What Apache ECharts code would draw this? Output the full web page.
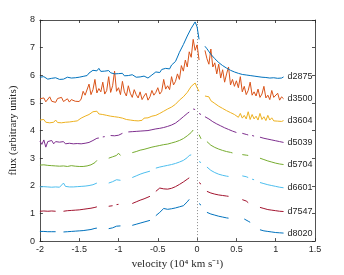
<!DOCTYPE html>
<html><head><meta charset="utf-8">
<script src="https://cdn.jsdelivr.net/npm/echarts@6/dist/echarts.min.js"></script>
<style>html,body{margin:0;padding:0;background:#fff}#c{width:344px;height:275px}</style>
</head><body><div id="c"></div>
<script>
// velocity grid (10^4 km/s), step 0.025 from -2.0 to 1.1
const vel = [-2.000,-1.975,-1.950,-1.925,-1.900,-1.875,-1.850,-1.825,-1.800,-1.775,
-1.750,-1.725,-1.700,-1.675,-1.650,-1.625,-1.600,-1.575,-1.550,-1.525,
-1.500,-1.475,-1.450,-1.425,-1.400,-1.375,-1.350,-1.325,-1.300,-1.275,
-1.250,-1.225,-1.200,-1.175,-1.150,-1.125,-1.100,-1.075,-1.050,-1.025,
-1.000,-0.975,-0.950,-0.925,-0.900,-0.875,-0.850,-0.825,-0.800,-0.775,
-0.750,-0.725,-0.700,-0.675,-0.650,-0.625,-0.600,-0.575,-0.550,-0.525,
-0.500,-0.475,-0.450,-0.425,-0.400,-0.375,-0.350,-0.325,-0.300,-0.275,
-0.250,-0.225,-0.200,-0.175,-0.150,-0.125,-0.100,-0.075,-0.050,-0.025,
0.000,0.025,0.050,0.075,0.100,0.125,0.150,0.175,0.200,0.225,
0.250,0.275,0.300,0.325,0.350,0.375,0.400,0.425,0.450,0.475,
0.500,0.525,0.550,0.575,0.600,0.625,0.650,0.675,0.700,0.725,
0.750,0.775,0.800,0.825,0.850,0.875,0.900,0.925,0.950,0.975,
1.000,1.025,1.050,1.075,1.100];
const _ = null;
const d2875 = [5.93,5.88,5.95,5.90,5.86,5.92,5.89,5.84,5.91,5.88,
5.85,5.91,5.86,5.89,5.93,5.87,5.90,5.95,5.91,5.97,
5.93,6.00,5.96,6.03,5.99,6.08,6.11,6.18,6.23,6.16,
6.25,6.14,6.21,6.15,6.11,6.17,6.09,6.13,6.05,6.11,
6.06,6.02,6.07,5.98,6.04,5.99,5.95,6.02,5.97,5.93,
5.99,5.94,5.91,5.97,5.93,5.90,5.97,6.01,6.06,6.12,
6.14,6.10,6.21,6.17,6.25,6.29,6.23,6.37,6.35,6.50,
6.66,6.83,6.89,7.11,7.18,7.42,7.48,7.70,7.74,7.93,
7.75,7.30,_,_,7.05,6.96,6.90,6.76,6.72,6.60,
6.57,6.46,6.45,6.35,6.36,6.26,6.27,6.18,6.19,6.12,
6.14,6.07,6.11,6.03,6.08,6.01,6.05,5.99,6.04,5.97,
6.01,5.95,6.00,5.93,5.98,5.92,5.97,5.90,5.96,5.91,
5.95,5.89,5.94,5.90,5.94];
const d3500 = [5.15,5.08,5.18,5.04,5.10,5.22,5.06,5.12,5.02,5.16,
5.10,5.20,5.05,5.08,5.15,5.03,5.12,5.18,5.06,5.10,
5.05,5.14,5.42,5.28,5.35,5.68,5.30,5.48,5.85,5.36,
5.52,5.40,5.75,5.32,5.45,5.95,5.38,5.62,6.15,5.42,
5.55,5.30,5.78,5.40,5.25,5.62,5.35,5.20,5.48,5.30,
5.18,5.40,5.12,5.25,5.35,5.10,5.22,5.45,5.28,5.38,
5.55,5.32,5.42,5.85,5.50,5.62,5.48,5.95,5.65,5.78,
6.05,5.85,6.35,6.15,6.55,6.30,6.85,6.65,7.30,6.90,
7.10,6.55,_,_,6.90,6.60,6.40,6.95,6.30,6.45,
6.05,6.40,5.90,6.20,5.75,6.05,6.30,5.65,5.85,5.60,
5.80,5.55,5.95,5.40,5.60,5.30,5.45,5.75,5.28,5.40,
5.25,5.50,5.20,5.32,5.60,5.18,5.28,5.12,5.45,5.20,
5.15,5.35,5.10,5.22,5.15];
const d3604 = [4.38,4.32,4.40,4.30,4.36,4.28,4.34,4.30,4.38,4.29,
4.33,4.28,4.35,4.30,4.37,4.31,4.36,4.33,4.40,4.35,
4.38,4.45,4.42,4.52,4.48,4.58,4.55,4.68,4.62,4.70,
4.60,4.66,4.58,4.64,4.55,4.62,4.52,4.58,4.50,4.56,
4.48,4.54,4.45,4.50,4.40,4.46,4.38,4.44,4.36,4.42,
4.35,4.42,4.37,4.45,4.38,4.46,4.40,4.52,4.45,4.55,
4.50,4.62,4.55,4.70,4.65,4.78,4.72,4.85,4.82,4.95,
4.98,5.10,5.08,5.22,5.25,5.38,5.45,5.60,5.58,5.72,
5.55,5.42,_,_,5.25,5.18,5.22,5.08,5.12,4.98,
5.02,4.88,4.95,4.80,4.86,4.72,4.78,4.65,4.70,4.58,
4.55,4.48,4.62,4.45,4.55,4.42,4.68,4.40,4.58,4.42,
4.52,4.38,4.62,4.40,4.50,4.36,4.55,4.38,4.46,4.35,
4.42,4.34,4.40,4.33,4.36];
const d5039 = [3.62,3.50,3.66,3.40,3.60,3.55,3.64,3.52,3.60,3.57,
3.58,3.55,3.60,3.52,3.57,3.54,3.56,3.52,3.55,3.53,
3.55,3.52,3.56,3.54,3.58,3.57,3.62,3.64,3.68,3.72,
3.73,_,3.77,3.78,_,_,3.82,3.84,3.81,3.86,
3.83,3.88,3.90,_,_,3.95,3.92,3.96,3.93,3.97,
3.94,3.98,3.95,3.99,3.96,4.00,3.98,4.03,4.01,4.06,
4.04,4.08,4.06,4.11,4.10,4.15,4.16,4.20,4.22,4.27,
4.32,4.38,4.42,4.50,4.55,4.62,4.67,_,4.78,4.76,
_,4.62,4.58,_,4.50,4.46,4.42,4.36,4.32,4.28,
4.24,4.20,4.17,4.14,4.10,4.07,4.04,4.01,3.98,3.95,
3.93,_,_,3.90,3.87,3.86,3.84,_,3.82,3.80,
_,_,3.76,3.74,3.72,3.71,3.69,3.68,3.66,3.65,
3.63,3.61,3.60,3.58,3.57];
const d5704 = [2.75,2.71,2.76,2.70,2.74,2.69,2.73,2.68,2.72,2.70,
2.71,2.67,2.72,2.66,2.70,2.69,2.73,2.68,2.71,2.69,
2.70,2.73,2.70,2.75,2.72,2.77,2.76,2.81,2.84,2.92,
_,_,_,_,_,3.00,3.02,3.05,3.08,3.10,
3.18,3.10,_,_,_,_,_,3.20,3.22,3.24,
3.26,3.29,3.29,3.32,3.33,3.36,3.37,3.40,3.40,3.43,
3.43,3.46,3.45,3.49,3.48,3.51,3.51,3.55,3.54,3.59,
3.59,3.64,3.66,3.71,3.74,3.81,3.85,3.93,4.02,_,
_,3.85,3.70,_,_,3.60,3.53,3.47,3.43,3.39,
3.36,3.33,3.31,3.28,3.26,3.24,3.22,3.21,3.19,_,
_,_,_,3.13,3.12,3.11,3.10,_,_,_,
_,_,3.00,2.97,2.95,2.92,2.90,2.88,2.86,2.84,
2.82,2.80,2.79,2.78,2.77];
const d6601 = [1.96,1.93,1.97,1.93,1.96,1.94,1.95,1.92,1.96,1.94,
1.95,1.97,2.10,1.98,1.95,1.96,1.93,1.96,1.95,1.97,
1.96,1.98,1.97,1.99,2.00,2.01,2.03,2.04,2.06,2.10,
_,_,_,_,_,2.10,2.12,2.15,2.18,2.22,
2.28,2.20,_,_,_,_,_,2.30,2.33,2.36,
2.39,2.42,2.44,2.47,2.49,2.51,2.53,_,_,2.64,
2.66,2.68,2.69,2.71,2.72,2.74,2.76,2.77,2.79,2.81,
2.84,2.86,2.88,2.92,2.97,3.02,3.10,3.12,_,_,
_,2.88,2.84,_,_,2.68,2.62,2.56,2.52,2.48,
2.45,2.42,2.40,2.38,2.37,2.35,2.34,_,_,_,
_,_,_,2.36,2.34,2.33,2.30,_,2.24,2.22,
_,_,2.12,2.10,2.08,2.06,2.04,2.02,2.01,1.99,
1.98,1.96,1.95,1.94,1.93];
const d7547 = [1.08,1.07,1.09,1.07,1.08,1.07,1.09,1.08,1.08,_,
_,_,1.08,1.09,1.10,1.10,1.11,1.12,1.12,1.13,
1.13,1.14,1.15,1.16,1.17,1.18,1.19,1.20,1.22,1.24,
_,_,_,_,_,1.26,1.27,1.28,_,1.32,
1.33,_,_,_,_,_,_,1.36,1.39,1.42,
1.45,1.48,1.50,1.53,1.56,1.59,1.62,_,_,1.80,
1.86,1.92,1.91,1.89,1.88,1.88,1.89,1.91,1.94,1.97,
2.01,2.05,2.09,2.14,2.19,2.24,2.29,_,_,_,
_,2.12,2.06,_,_,1.80,1.77,1.74,1.72,1.70,
1.69,1.67,1.66,1.65,1.64,1.63,1.62,_,_,_,
_,_,_,1.50,1.48,1.45,1.39,_,_,_,
_,_,1.22,1.20,1.18,1.16,1.14,1.13,1.12,1.11,
1.10,1.09,1.08,1.07,1.07];
const d8020 = [0.35,0.34,0.35,0.33,0.34,0.33,0.34,0.33,0.34,_,
_,_,0.33,0.33,0.34,0.34,0.35,0.35,0.36,0.36,
0.37,0.37,0.38,0.39,0.40,0.41,0.42,0.44,0.46,0.47,
_,_,_,_,_,0.45,0.46,0.48,0.51,0.54,
0.57,0.55,_,_,_,_,_,0.57,0.59,0.61,
0.63,0.65,0.67,0.69,0.71,0.73,0.75,_,_,0.92,
0.98,1.04,1.10,1.18,1.14,1.15,1.16,1.17,1.18,1.20,
1.22,1.24,1.26,1.28,1.32,1.42,1.51,_,_,_,
_,1.36,1.30,_,_,1.04,1.01,0.98,0.96,0.94,
0.92,0.90,0.88,0.87,0.86,0.84,0.83,_,_,_,
_,_,_,_,0.80,0.77,0.72,0.68,_,_,
_,_,0.41,0.39,0.37,0.36,0.35,0.34,0.33,0.32,
0.31,0.31,0.30,0.29,0.29];

const seriesNames = ['d2875','d3500','d3604','d5039','d5704','d6601','d7547','d8020'];
const seriesData = [d2875,d3500,d3604,d5039,d5704,d6601,d7547,d8020];
const colors = ['#0072BD','#D95319','#EDB120','#7E2F8E','#77AC30','#4DBEEE','#A2142F','#0072BD'];
const xTicks = {min:-2, max:1.5, step:0.5};
const yTicks = {min:0, max:8, step:1};
const zeroVelocity = 0;

const axisColor = '#262626';
const series = seriesNames.map((name,k)=>({
  name, type:'line', showSymbol:false, connectNulls:false, animation:false,
  data: vel.map((v,i)=>[v, seriesData[k][i]]),
  lineStyle:{color:colors[k], width:1},
  itemStyle:{color:colors[k]},
  endLabel:{show:true, formatter:'{a}', color:axisColor, fontSize:9, fontFamily:'Liberation Sans', distance:4},
  z: 10-k
}));
series[0].markLine = {
  silent:true, symbol:'none', label:{show:false},
  lineStyle:{color:'#8c8c8c', type:[1,2], width:1},
  data:[{xAxis:zeroVelocity}]
};

const chart = echarts.init(document.getElementById('c'), null, {renderer:'canvas'});
const tickBase = {show:true, inside:true, length:3, lineStyle:{color:axisColor, width:0.8}};
chart.setOption({
  animation:false,
  backgroundColor:'#fff',
  grid:{left:32, right:29, top:20, bottom:31},
  xAxis:[{
    type:'value', min:xTicks.min, max:xTicks.max, interval:xTicks.step, position:'bottom',
    axisLine:{show:true, onZero:false, lineStyle:{color:axisColor, width:0.8}},
    axisTick:tickBase, splitLine:{show:false},
    axisLabel:{color:axisColor, fontSize:9, fontFamily:'Liberation Sans', margin:4},
    name:'velocity (10\u2074 km s\u207B\u00B9)', nameLocation:'middle', nameGap:17,
    nameTextStyle:{fontFamily:'Liberation Serif', fontSize:11, color:axisColor}
  },{
    type:'value', min:xTicks.min, max:xTicks.max, interval:xTicks.step, position:'top',
    axisLine:{show:true, onZero:false, lineStyle:{color:axisColor, width:0.8}},
    axisTick:tickBase, axisLabel:{show:false}, splitLine:{show:false}
  }],
  yAxis:[{
    type:'value', min:yTicks.min, max:yTicks.max, interval:yTicks.step, position:'left',
    axisLine:{show:true, onZero:false, lineStyle:{color:axisColor, width:0.8}},
    axisTick:tickBase, splitLine:{show:false},
    axisLabel:{color:axisColor, fontSize:9, fontFamily:'Liberation Sans', margin:5},
    name:'flux (arbitrary units)', nameLocation:'middle', nameGap:16,
    nameTextStyle:{fontFamily:'Liberation Serif', fontSize:11, color:axisColor}
  },{
    type:'value', min:yTicks.min, max:yTicks.max, interval:yTicks.step, position:'right',
    axisLine:{show:true, onZero:false, lineStyle:{color:axisColor, width:0.8}},
    axisTick:tickBase, axisLabel:{show:false}, splitLine:{show:false}
  }],
  series
});
</script></body></html>
